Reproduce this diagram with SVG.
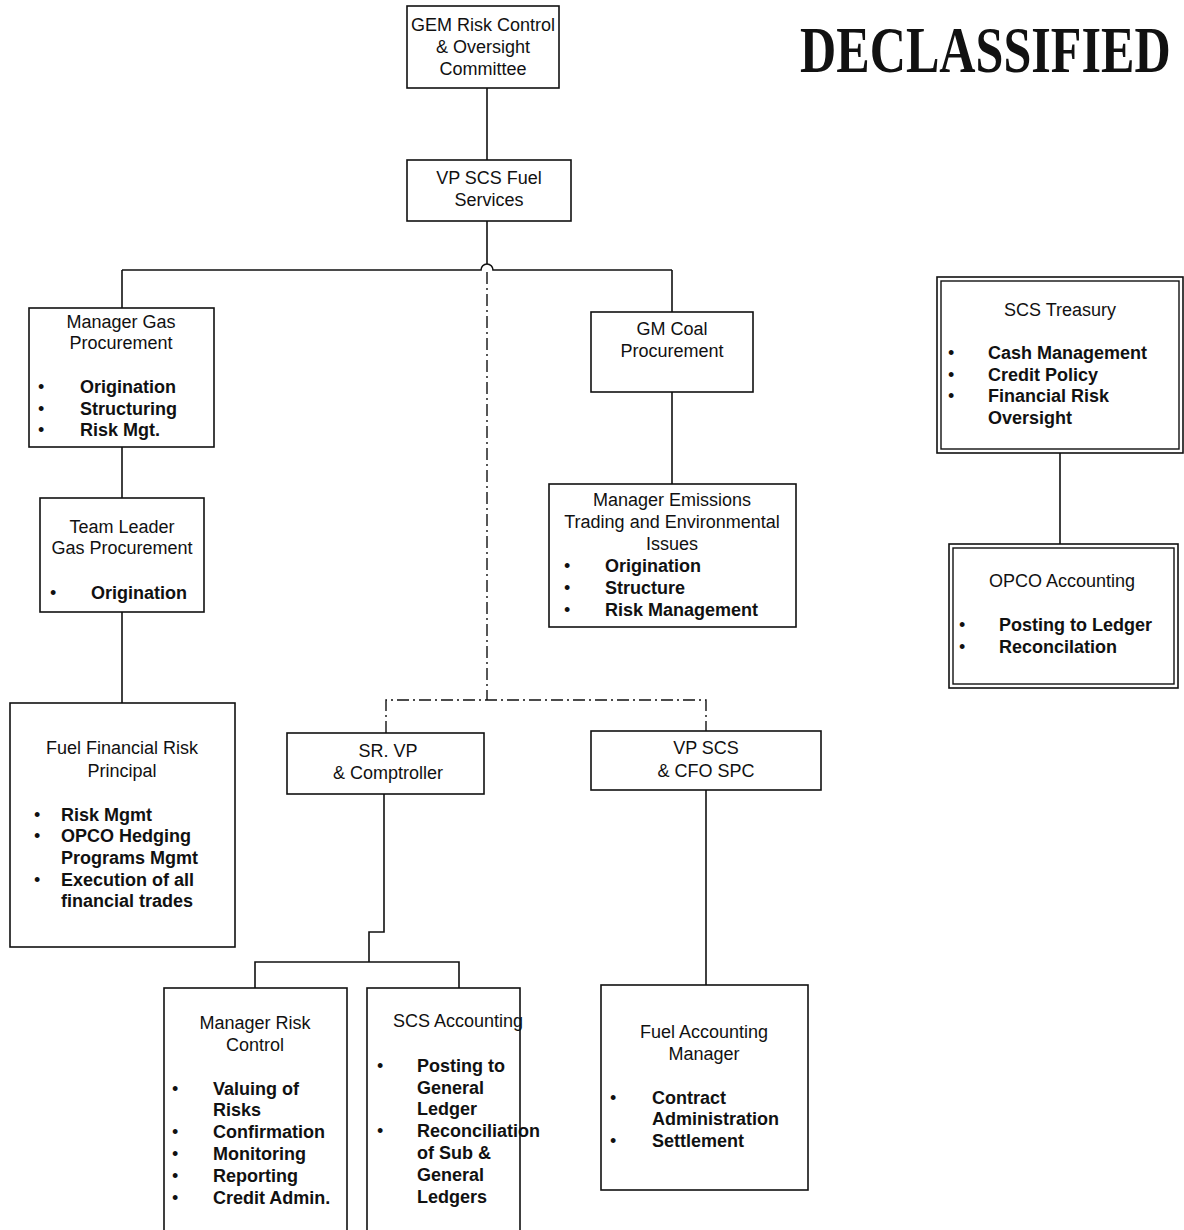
<svg xmlns="http://www.w3.org/2000/svg" width="1184" height="1230" viewBox="0 0 1184 1230">
<style>
.bg{fill:#fff}
.box{fill:#fff;stroke:#111;stroke-width:1.6}
.dbl{fill:none;stroke:#111;stroke-width:1.4}
.ln{fill:none;stroke:#111;stroke-width:1.6}
.dash{fill:none;stroke:#111;stroke-width:1.4;stroke-dasharray:12 4 2 4}
text{font-family:"Liberation Sans",Arial,sans-serif;font-size:18px;fill:#111}
.c{text-anchor:middle}
.b{font-weight:bold}
.stamp{font-family:"Liberation Serif","Times New Roman",serif;font-weight:bold;font-size:66px;fill:#111}
</style>
<rect class="bg" x="0" y="0" width="1184" height="1230"/>
<g id="connectors">
<line class="ln" x1="487" y1="88" x2="487" y2="160"/>
<line class="ln" x1="487" y1="221" x2="487" y2="264"/>
<path class="ln" d="M122,270 H481 A6,6 0 0 1 493,270 H672"/>
<line class="ln" x1="122" y1="270" x2="122" y2="308"/>
<line class="ln" x1="672" y1="270" x2="672" y2="312"/>
<line class="ln" x1="122" y1="447" x2="122" y2="498"/>
<line class="ln" x1="122" y1="612" x2="122" y2="703"/>
<line class="ln" x1="672" y1="392" x2="672" y2="484"/>
<line class="ln" x1="1060" y1="453" x2="1060" y2="544"/>
<path class="dash" d="M487,272 V700"/>
<path class="dash" d="M386,733 V700 H706 V731"/>
<path class="ln" d="M384,794 V932 H369 V962"/>
<path class="ln" d="M255,988 V962 H459 V988"/>
<line class="ln" x1="706" y1="790" x2="706" y2="985"/>
</g>
<g id="stamp" transform="translate(800,72) scale(0.76,1)">
<text class="stamp" x="0" y="0">DECLASSIFIED</text>
</g>
<g id="gem">
<rect class="box" x="407" y="6" width="152" height="82"/>
<text class="c" x="483" y="31">GEM Risk Control</text>
<text class="c" x="483" y="53">&amp; Oversight</text>
<text class="c" x="483" y="75">Committee</text>
</g>
<g id="vp-fuel">
<rect class="box" x="407" y="160" width="164" height="61"/>
<text class="c" x="489" y="184">VP SCS Fuel</text>
<text class="c" x="489" y="206">Services</text>
</g>
<g id="mgr-gas">
<rect class="box" x="29" y="308" width="185" height="139"/>
<text class="c" x="121" y="328">Manager Gas</text>
<text class="c" x="121" y="349">Procurement</text>
<text x="38" y="393">•</text><text class="b" x="80" y="393">Origination</text>
<text x="38" y="415">•</text><text class="b" x="80" y="415">Structuring</text>
<text x="38" y="436">•</text><text class="b" x="80" y="436">Risk Mgt.</text>
</g>
<g id="team-leader">
<rect class="box" x="40" y="498" width="164" height="114"/>
<text class="c" x="122" y="533">Team Leader</text>
<text class="c" x="122" y="554">Gas Procurement</text>
<text x="50" y="599">•</text><text class="b" x="91" y="599">Origination</text>
</g>
<g id="fuel-fin-risk">
<rect class="box" x="10" y="703" width="225" height="244"/>
<text class="c" x="122" y="754">Fuel Financial Risk</text>
<text class="c" x="122" y="777">Principal</text>
<text x="34" y="821">•</text><text class="b" x="61" y="821">Risk Mgmt</text>
<text x="34" y="842">•</text><text class="b" x="61" y="842">OPCO Hedging</text>
<text class="b" x="61" y="864">Programs Mgmt</text>
<text x="34" y="886">•</text><text class="b" x="61" y="886">Execution of all</text>
<text class="b" x="61" y="907">financial trades</text>
</g>
<g id="gm-coal">
<rect class="box" x="591" y="312" width="162" height="80"/>
<text class="c" x="672" y="335">GM Coal</text>
<text class="c" x="672" y="357">Procurement</text>
</g>
<g id="mgr-emissions">
<rect class="box" x="549" y="484" width="247" height="143"/>
<text class="c" x="672" y="506">Manager Emissions</text>
<text class="c" x="672" y="528">Trading and Environmental</text>
<text class="c" x="672" y="550">Issues</text>
<text x="564" y="572">•</text><text class="b" x="605" y="572">Origination</text>
<text x="564" y="594">•</text><text class="b" x="605" y="594">Structure</text>
<text x="564" y="616">•</text><text class="b" x="605" y="616">Risk Management</text>
</g>
<g id="scs-treasury">
<rect class="box" x="937" y="277" width="246" height="176"/>
<rect class="dbl" x="941" y="281" width="238" height="168"/>
<text class="c" x="1060" y="316">SCS Treasury</text>
<text x="948" y="359">•</text><text class="b" x="988" y="359">Cash Management</text>
<text x="948" y="381">•</text><text class="b" x="988" y="381">Credit Policy</text>
<text x="948" y="402">•</text><text class="b" x="988" y="402">Financial Risk</text>
<text class="b" x="988" y="424">Oversight</text>
</g>
<g id="opco-accounting">
<rect class="box" x="949" y="544" width="229" height="144"/>
<rect class="dbl" x="953" y="548" width="221" height="136"/>
<text class="c" x="1062" y="587">OPCO Accounting</text>
<text x="959" y="631">•</text><text class="b" x="999" y="631">Posting to Ledger</text>
<text x="959" y="653">•</text><text class="b" x="999" y="653">Reconcilation</text>
</g>
<g id="sr-vp">
<rect class="box" x="287" y="733" width="197" height="61"/>
<text class="c" x="388" y="757">SR. VP</text>
<text class="c" x="388" y="779">&amp; Comptroller</text>
</g>
<g id="vp-cfo">
<rect class="box" x="591" y="731" width="230" height="59"/>
<text class="c" x="706" y="754">VP SCS</text>
<text class="c" x="706" y="777">&amp; CFO SPC</text>
</g>
<g id="mgr-risk-control">
<rect class="box" x="164" y="988" width="183" height="252"/>
<text class="c" x="255" y="1029">Manager Risk</text>
<text class="c" x="255" y="1051">Control</text>
<text x="172" y="1095">•</text><text class="b" x="213" y="1095">Valuing of</text>
<text class="b" x="213" y="1116">Risks</text>
<text x="172" y="1138">•</text><text class="b" x="213" y="1138">Confirmation</text>
<text x="172" y="1160">•</text><text class="b" x="213" y="1160">Monitoring</text>
<text x="172" y="1182">•</text><text class="b" x="213" y="1182">Reporting</text>
<text x="172" y="1204">•</text><text class="b" x="213" y="1204">Credit Admin.</text>
</g>
<g id="scs-accounting">
<rect class="box" x="367" y="988" width="153" height="252"/>
<text class="c" x="458" y="1027">SCS Accounting</text>
<text x="377" y="1072">•</text><text class="b" x="417" y="1072">Posting to</text>
<text class="b" x="417" y="1094">General</text>
<text class="b" x="417" y="1115">Ledger</text>
<text x="377" y="1137">•</text><text class="b" x="417" y="1137">Reconciliation</text>
<text class="b" x="417" y="1159">of Sub &amp;</text>
<text class="b" x="417" y="1181">General</text>
<text class="b" x="417" y="1203">Ledgers</text>
</g>
<g id="fuel-accounting">
<rect class="box" x="601" y="985" width="207" height="205"/>
<text class="c" x="704" y="1038">Fuel Accounting</text>
<text class="c" x="704" y="1060">Manager</text>
<text x="610" y="1104">•</text><text class="b" x="652" y="1104">Contract</text>
<text class="b" x="652" y="1125">Administration</text>
<text x="610" y="1147">•</text><text class="b" x="652" y="1147">Settlement</text>
</g>
</svg>
